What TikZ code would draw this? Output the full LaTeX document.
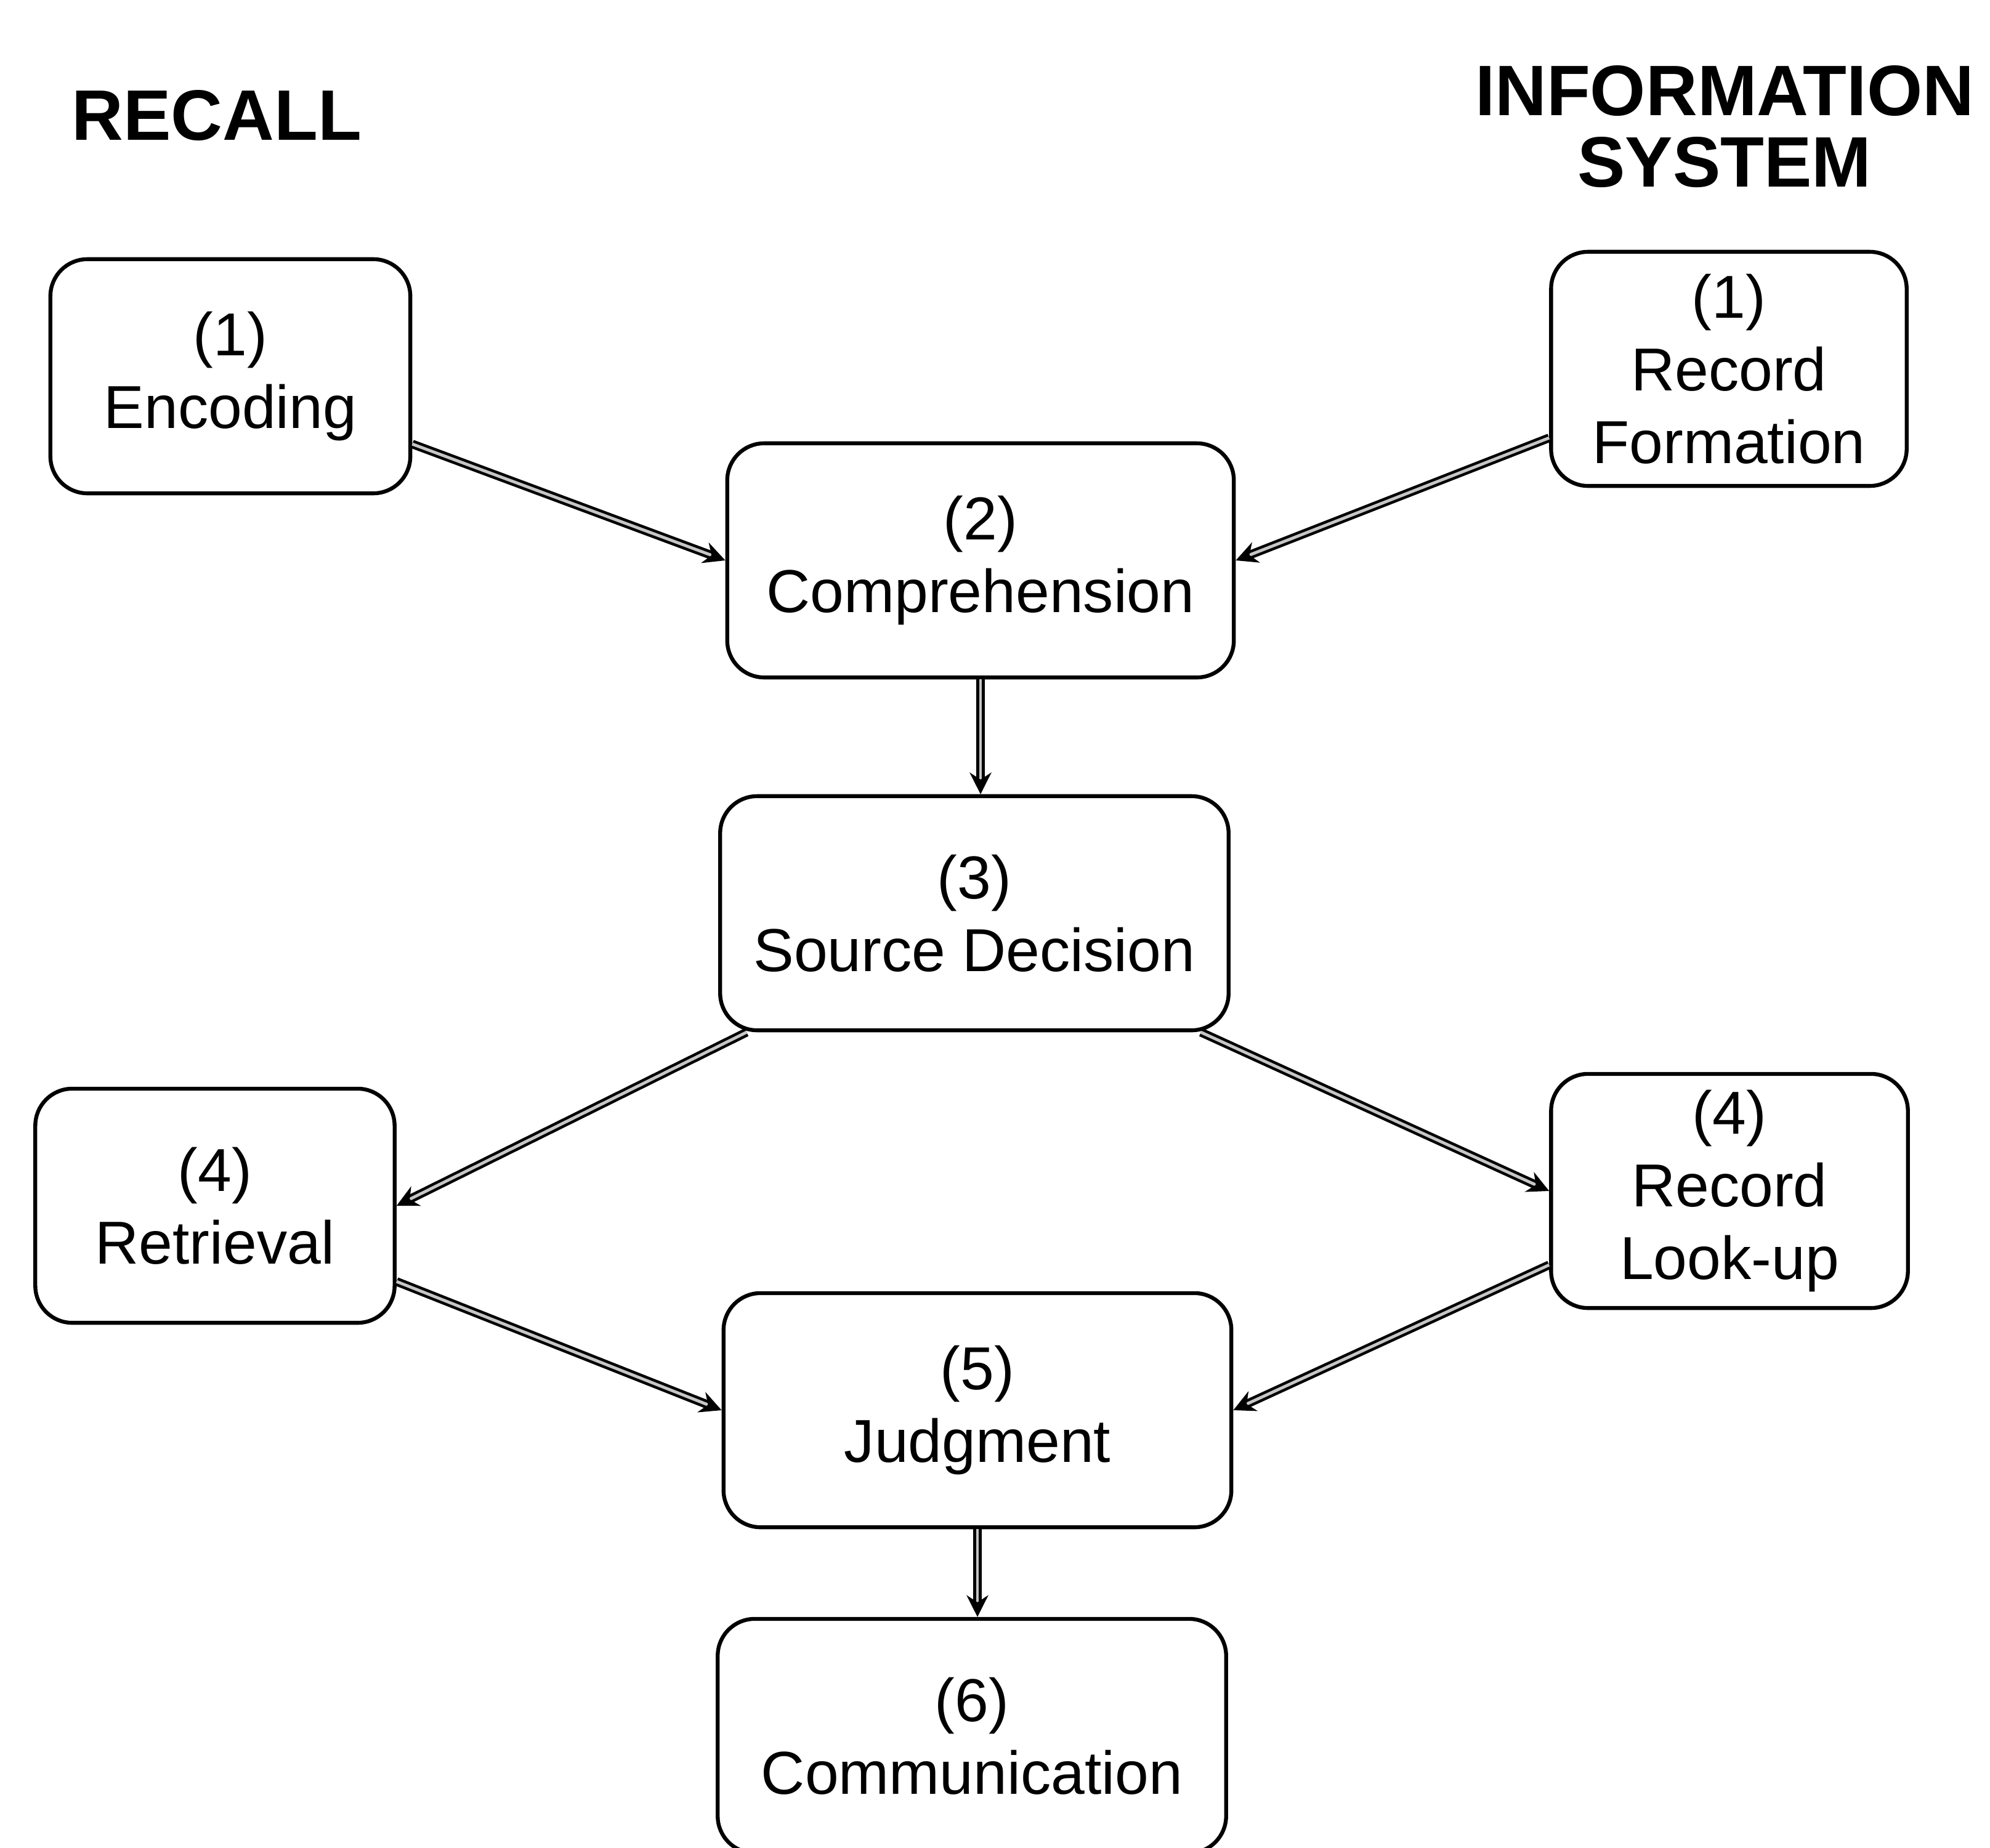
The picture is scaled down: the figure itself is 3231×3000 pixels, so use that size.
\documentclass[tikz,border=0pt]{standalone}
\usepackage{fontspec}
\setmainfont{Liberation Sans}
\usetikzlibrary{arrows.meta,calc}
\begin{document}
\begin{tikzpicture}[x=0.01cm,y=-0.01cm,
  box/.style={draw=black, line width=1.8pt, rounded corners=0.6cm, minimum height=3.8cm,
    align=center, inner sep=0pt, font=\fontsize{28}{33.5}\selectfont, fill=white},
  title/.style={align=center, font=\fontsize{33}{33}\selectfont\bfseries},
  conn/.style={draw=black, line width=1.3pt, double=gray!45, double distance=1.4pt,
    -{Stealth[length=10pt,width=10pt]}}]
\useasboundingbox (0,0) rectangle (3231,3000);
\node[title] (recall) at (352,188) {RECALL};
\node[title] (info) at (2800,206) {INFORMATION\\SYSTEM};
\node[box, minimum width=5.84cm] (enc) at (374,611) {(1)\\Encoding};
\node[box, minimum width=5.77cm] (rf) at (2807,599) {(1)\\Record\\Formation};
\node[box, minimum width=8.22cm] (comp) at (1592,910) {(2)\\Comprehension};
\node[box, minimum width=8.25cm] (sd) at (1582,1483) {(3)\\Source Decision};
\node[box, minimum width=5.83cm] (ret) at (349,1958) {(4)\\Retrieval};
\node[box, minimum width=5.79cm] (rlu) at (2808,1934) {(4)\\Record\\Look-up};
\node[box, minimum width=8.24cm] (jud) at (1587,2290) {(5)\\Judgment};
\node[box, minimum width=8.25cm] (com) at (1578,2819) {(6)\\Communication};
\draw[conn] ([yshift=-1.1cm]enc.east) -- (comp.west);
\draw[conn] ([yshift=-1.12cm]rf.west) -- (comp.east);
\draw[conn] (comp.south) -- (comp.south |- sd.north);
\draw[conn] ([xshift=0.46cm]sd.south west) -- (ret.east);
\draw[conn] ([xshift=-0.48cm]sd.south east) -- (rlu.west);
\draw[conn] ([yshift=-1.23cm]ret.east) -- (jud.west);
\draw[conn] ([yshift=-1.2cm]rlu.west) -- (jud.east);
\draw[conn] (jud.south) -- (jud.south |- com.north);
\end{tikzpicture}
\end{document}
